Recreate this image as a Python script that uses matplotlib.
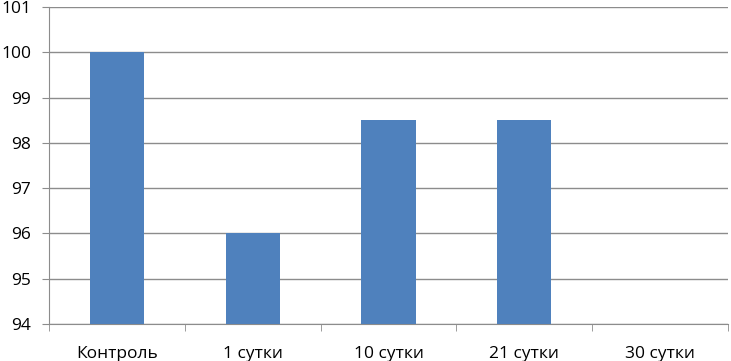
import matplotlib
matplotlib.use("Agg")
import matplotlib.pyplot as plt
from matplotlib.ticker import FixedLocator
import numpy as np

categories = ["Контроль", "1 сутки", "10 сутки", "21 сутки", "30 сутки"]
values = [100, 96, 98.5, 98.5, 94]
yticks = [94, 95, 96, 97, 98, 99, 100, 101]

plt.rcParams['font.family'] = ['Open Sans', 'DejaVu Sans']

fig = plt.figure(figsize=(7.31, 3.61), dpi=100)
ax = fig.add_axes([49/731, 1-324/361, (728-49)/731, (324-7)/361])

x = np.arange(len(categories))
bottom = yticks[0]
ax.bar(x, [v - bottom for v in values], bottom=bottom, width=0.4, color="#4F81BD", zorder=3)

ax.set_ylim(94, 101)
ax.set_xlim(-0.5, len(categories) - 0.5)
ax.set_yticks(yticks)
ax.set_yticklabels([str(t) for t in yticks], fontsize=12.5)
ax.yaxis.grid(True, color="#8C8C8C", linewidth=1, zorder=0)
ax.set_xticks(x)
ax.set_xticklabels(categories, fontsize=12.5)
ax.tick_params(axis='x', length=0, pad=16)
ax.xaxis.set_minor_locator(FixedLocator(np.arange(-0.5, len(categories), 1)))
ax.tick_params(axis='x', which='minor', length=5, color="#8C8C8C", direction='out')
ax.tick_params(axis='y', length=5, color="#8C8C8C", direction='out', pad=8)
for s in ["top", "right"]:
    ax.spines[s].set_visible(False)
for s in ["left", "bottom"]:
    ax.spines[s].set_color("#8C8C8C")

fig.savefig("out.png", dpi=100)
